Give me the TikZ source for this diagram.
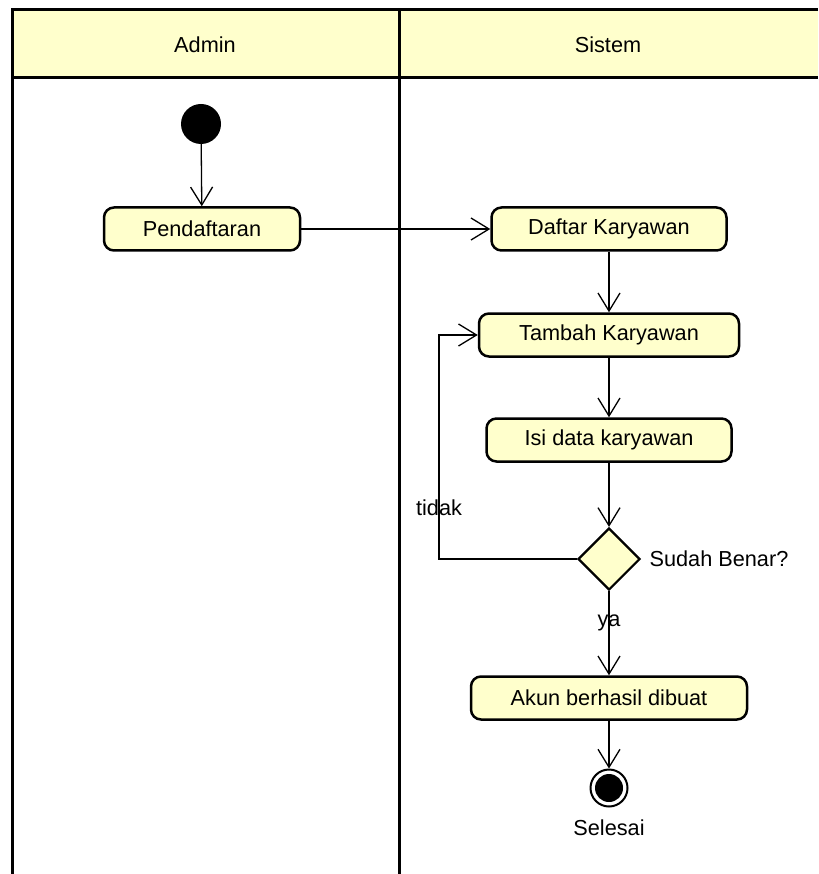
\documentclass[tikz,border=0pt]{standalone}
\usepackage{fontspec}
\setmainfont{Liberation Sans}
\usetikzlibrary{arrows.meta,shapes.geometric,positioning}
\definecolor{umlfill}{RGB}{255,255,204}

\begin{document}
\begin{tikzpicture}[x=1pt,y=-1pt,
    font=\fontsize{21.7}{26}\selectfont,
    aksi/.style={draw, line width=2.5pt, rounded corners=10pt, fill=umlfill, minimum height=43pt},
    alur/.style={line width=1.3pt, -{Straight Barb[length=18pt,width=22pt,line width=1.3pt]}},
    lajur/.style={line width=3pt}]

    \useasboundingbox (0,0) rectangle (818,874);

    % swimlane header
    \fill[umlfill] (12,10) rectangle (818,78);
    \draw[lajur] (818,10) -- (12,10) -- (12,874);
    \draw[lajur] (12,78) -- (818,78);
    \draw[lajur] (399,10) -- (399,874);
    \node (admin) at (205,45) {Admin};
    \node (sistem) at (608,45) {Sistem};

    % admin lane
    \node[circle, fill=black, minimum size=40pt, inner sep=0pt] (mulai) at (201,124) {};
    \node[aksi, minimum width=196pt] (daftar) at (202,229) {Pendaftaran};

    % sistem lane
    \node[aksi, minimum width=235pt] (daftarkar) at (609,229) {Daftar Karyawan};
    \node[aksi, minimum width=260pt] (tambah) at (609,335) {Tambah Karyawan};
    \node[aksi, minimum width=245pt] (isi) at (609,440) {Isi data karyawan};
    \node[diamond, draw, line width=2.2pt, fill=umlfill, minimum width=62pt, minimum height=62pt, inner sep=0pt] (cek) at (609,559) {};
    \node[right=5pt of cek] (cektext) {Sudah Benar?};
    \node[aksi, minimum width=276pt] (akun) at (609,698) {Akun berhasil dibuat};
    \node[circle, draw, line width=2pt, fill=white, minimum size=37pt, inner sep=0pt] (selesai) at (609,788) {};
    \node[circle, fill=black, minimum size=28pt, inner sep=0pt] (selesaidot) at (selesai.center) {};
    \node (selesaitext) at (609,828) {Selesai};

    % alur
    \coordinate (balik) at (439,559);
    \draw[alur] (mulai) -- (daftar);
    \draw[alur] (daftar) -- (daftarkar);
    \draw[alur] (daftarkar) -- (tambah);
    \draw[alur] (tambah) -- (isi);
    \draw[alur] (isi) -- (cek);
    \draw[alur] (cek.west) -- (balik) |- (tambah.west); % tidak
    \draw[alur] (cek) -- (akun); % ya
    \draw[alur] (akun) -- (selesai);
    \node (tidak) at (439,508) {tidak};
    \node (ya) at (609,623) {ya};

\end{tikzpicture}
\end{document}
